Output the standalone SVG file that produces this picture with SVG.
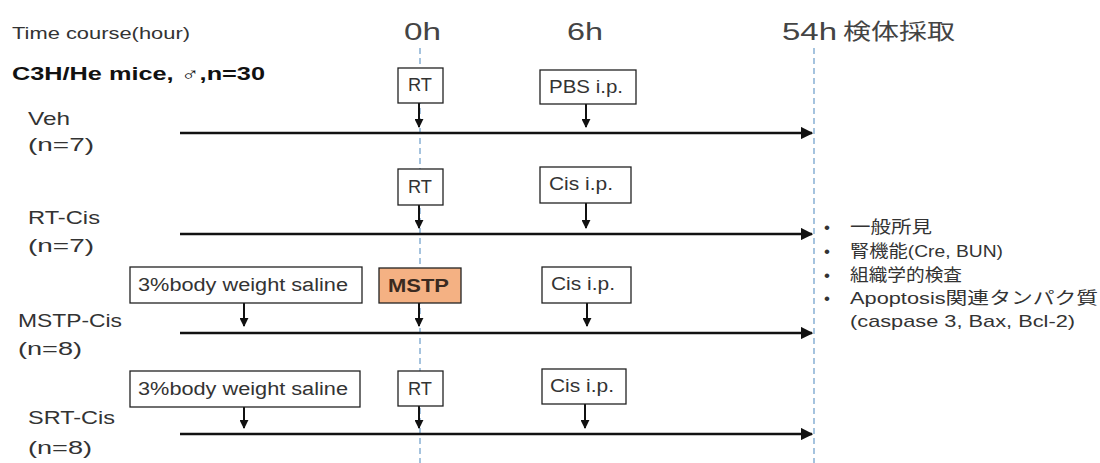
<svg xmlns="http://www.w3.org/2000/svg" width="1100" height="463" viewBox="0 0 1100 463">
<style>
text{font-family:"Liberation Sans","Noto Sans CJK JP",sans-serif;fill:#333}
.lbl{font-size:19px}
.box{fill:#fff;stroke:#222;stroke-width:1.3}
.btxt{font-size:18px}
.tl{stroke:#111;stroke-width:2.5;fill:none}
.dn{stroke:#111;stroke-width:2;fill:none}
.dash{stroke:#6a9cc8;stroke-width:1.2;stroke-dasharray:6,4;fill:none}
.hr{font-size:23px;fill:#444}
.li{font-size:17px}
</style>
<defs>
<marker id="ah" viewBox="0 0 10 10" refX="9" refY="5" markerWidth="5" markerHeight="5" orient="auto"><path d="M0,0L10,5L0,10z" fill="#111"/></marker>
<marker id="ad" viewBox="0 0 10 10" refX="9" refY="5" markerWidth="4.5" markerHeight="4.5" orient="auto"><path d="M0,0L10,5L0,10z" fill="#111"/></marker>
</defs>
<g id="header">
<text x="12" y="39" style="font-size:17px" textLength="178" lengthAdjust="spacingAndGlyphs">Time course(hour)</text>
<text x="12" y="80" style="font-size:18px;font-weight:bold;fill:#111" textLength="253" lengthAdjust="spacingAndGlyphs">C3H/He mice, ♂,n=30</text>
<text class="hr" x="404" y="40" textLength="37" lengthAdjust="spacingAndGlyphs">0h</text>
<text class="hr" x="567" y="40" textLength="36" lengthAdjust="spacingAndGlyphs">6h</text>
<text class="hr" x="782" y="40" textLength="55" lengthAdjust="spacingAndGlyphs">54h</text>
<text x="843" y="39" style="font-size:22px;fill:#444" textLength="112" lengthAdjust="spacingAndGlyphs">検体採取</text>
</g>
<g id="guides">
<line class="dash" x1="420" y1="48" x2="420" y2="463"/>
<line class="dash" x1="814" y1="48" x2="814" y2="463"/>
</g>
<g id="labels">
<text class="lbl" x="28" y="125" textLength="42" lengthAdjust="spacingAndGlyphs">Veh</text>
<text class="lbl" x="28" y="151" textLength="66" lengthAdjust="spacingAndGlyphs">(n=7)</text>
<text class="lbl" x="28" y="224" textLength="72" lengthAdjust="spacingAndGlyphs">RT-Cis</text>
<text class="lbl" x="28" y="252" textLength="66" lengthAdjust="spacingAndGlyphs">(n=7)</text>
<text class="lbl" x="18" y="327" textLength="104" lengthAdjust="spacingAndGlyphs">MSTP-Cis</text>
<text class="lbl" x="18" y="355" textLength="64" lengthAdjust="spacingAndGlyphs">(n=8)</text>
<text class="lbl" x="28" y="424" textLength="87" lengthAdjust="spacingAndGlyphs">SRT-Cis</text>
<text class="lbl" x="28" y="454" textLength="64" lengthAdjust="spacingAndGlyphs">(n=8)</text>
</g>
<g id="connectors">
<line class="tl" x1="180" y1="133" x2="812" y2="133" marker-end="url(#ah)"/>
<line class="tl" x1="180" y1="234" x2="812" y2="234" marker-end="url(#ah)"/>
<line class="tl" x1="180" y1="333" x2="812" y2="333" marker-end="url(#ah)"/>
<line class="tl" x1="180" y1="434" x2="812" y2="434" marker-end="url(#ah)"/>
<line class="dn" x1="419" y1="103" x2="419" y2="127" marker-end="url(#ad)"/>
<line class="dn" x1="586" y1="104" x2="586" y2="127" marker-end="url(#ad)"/>
<line class="dn" x1="419" y1="205" x2="419" y2="228" marker-end="url(#ad)"/>
<line class="dn" x1="586" y1="203" x2="586" y2="228" marker-end="url(#ad)"/>
<line class="dn" x1="244" y1="303" x2="244" y2="326" marker-end="url(#ad)"/>
<line class="dn" x1="419" y1="303" x2="419" y2="326" marker-end="url(#ad)"/>
<line class="dn" x1="587" y1="303" x2="587" y2="326" marker-end="url(#ad)"/>
<line class="dn" x1="244" y1="407" x2="244" y2="428" marker-end="url(#ad)"/>
<line class="dn" x1="419" y1="406" x2="419" y2="428" marker-end="url(#ad)"/>
<line class="dn" x1="585" y1="404" x2="585" y2="428" marker-end="url(#ad)"/>
</g>
<g id="veh-rt"><rect class="box" x="398" y="68" width="45" height="35"/><text class="btxt" x="408" y="91" textLength="24" lengthAdjust="spacingAndGlyphs">RT</text></g>
<g id="veh-pbs"><rect class="box" x="540" y="70" width="96" height="34"/><text class="btxt" x="549" y="93" textLength="74" lengthAdjust="spacingAndGlyphs">PBS i.p.</text></g>
<g id="rtcis-rt"><rect class="box" x="398" y="169" width="45" height="36"/><text class="btxt" x="408" y="193" textLength="24" lengthAdjust="spacingAndGlyphs">RT</text></g>
<g id="rtcis-cis"><rect class="box" x="540" y="167" width="91" height="36"/><text class="btxt" x="549" y="190" textLength="64" lengthAdjust="spacingAndGlyphs">Cis i.p.</text></g>
<g id="mstp-saline"><rect class="box" x="130" y="267" width="232" height="36"/><text class="btxt" x="138" y="291" textLength="210" lengthAdjust="spacingAndGlyphs">3%body weight saline</text></g>
<g id="mstp-mstp"><rect x="379" y="268" width="82" height="35" fill="#f4b183" stroke="#222" stroke-width="1.3"/><text class="btxt" x="388" y="292" textLength="61" lengthAdjust="spacingAndGlyphs" style="font-weight:bold;fill:#3a2a20">MSTP</text></g>
<g id="mstp-cis"><rect class="box" x="542" y="267" width="89" height="36"/><text class="btxt" x="551" y="290" textLength="64" lengthAdjust="spacingAndGlyphs">Cis i.p.</text></g>
<g id="srt-saline"><rect class="box" x="130" y="371" width="230" height="36"/><text class="btxt" x="138" y="395" textLength="210" lengthAdjust="spacingAndGlyphs">3%body weight saline</text></g>
<g id="srt-rt"><rect class="box" x="398" y="371" width="45" height="35"/><text class="btxt" x="408" y="395" textLength="24" lengthAdjust="spacingAndGlyphs">RT</text></g>
<g id="srt-cis"><rect class="box" x="542" y="369" width="84" height="35"/><text class="btxt" x="550" y="392" textLength="64" lengthAdjust="spacingAndGlyphs">Cis i.p.</text></g>
<g id="outcomes">
<text class="li" x="824" y="233">•</text><text class="li" x="850" y="233" textLength="82" lengthAdjust="spacingAndGlyphs">一般所見</text>
<text class="li" x="824" y="257">•</text><text class="li" x="850" y="257" textLength="153" lengthAdjust="spacingAndGlyphs">腎機能(Cre, BUN)</text>
<text class="li" x="824" y="281">•</text><text class="li" x="850" y="281" textLength="112" lengthAdjust="spacingAndGlyphs">組織学的検査</text>
<text class="li" x="824" y="304">•</text><text class="li" x="850" y="304" textLength="248" lengthAdjust="spacingAndGlyphs">Apoptosis関連タンパク質</text>
<text class="li" x="850" y="327" textLength="225" lengthAdjust="spacingAndGlyphs">(caspase 3, Bax, Bcl-2)</text>
</g>
</svg>
